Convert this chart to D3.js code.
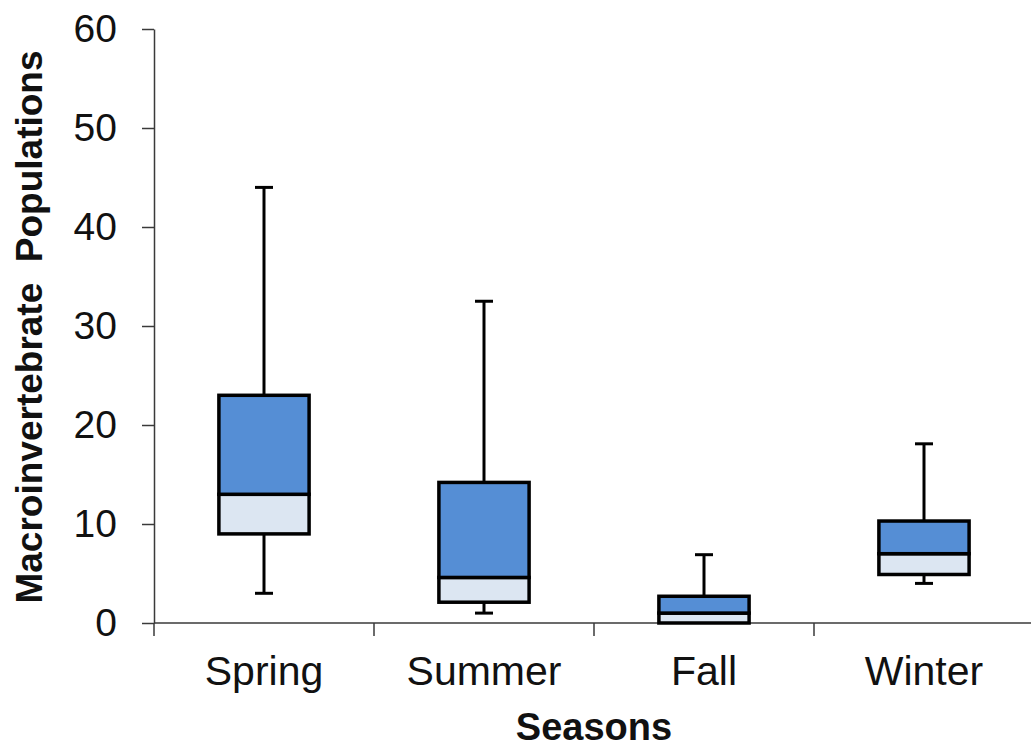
<!DOCTYPE html>
<html>
<head>
<meta charset="utf-8">
<script src="https://cdn.jsdelivr.net/npm/d3@7"></script>
<style>
  html, body { margin: 0; padding: 0; background: #fff; }
  svg { display: block; font-family: "Liberation Sans", Arial, sans-serif; }
</style>
</head>
<body>
<svg id="chart" width="1031" height="744"></svg>
<script>
// Seasonal macroinvertebrate counts: five-number summaries per season
const categories = ["Spring", "Summer", "Fall", "Winter"];
const minValues    = [3, 1, 0, 4];
const q1Values     = [9, 2.1, 0, 4.9];
const medianValues = [13, 4.6, 1, 7];
const q3Values     = [23, 14.2, 2.7, 10.3];
const maxValues    = [44, 32.5, 6.9, 18.1];
const yTicks = [0, 10, 20, 30, 40, 50, 60];

const rows = categories.map((c, i) => ({
  season: c, min: minValues[i], q1: q1Values[i], median: medianValues[i],
  q3: q3Values[i], max: maxValues[i]
}));

const svg = d3.select("#chart");
const plotLeft = 154, plotRight = 1034, plotTop = 29, plotBottom = 623;

const x = d3.scaleBand().domain(categories).range([plotLeft, plotRight]).paddingInner(0).paddingOuter(0);
const y = d3.scaleLinear().domain([0, 60]).range([plotBottom, plotTop]);

const axisColor = "#3a3a3a";

// Y axis
const yAxis = svg.append("g")
  .attr("transform", `translate(${plotLeft},0)`)
  .call(d3.axisLeft(y).tickValues(yTicks).tickSize(12).tickPadding(25).tickSizeOuter(0));
yAxis.select(".domain").attr("stroke", axisColor).attr("stroke-width", 1.5);
yAxis.selectAll(".tick line").attr("stroke", axisColor).attr("stroke-width", 1.5);
yAxis.selectAll(".tick text")
  .attr("font-size", 39).attr("fill", "#111")
  .attr("font-family", "'Liberation Sans', Arial, sans-serif");

// X axis: ticks sit on category boundaries
const boundaries = categories.map(c => x(c));
const xAxisG = svg.append("g").attr("transform", `translate(0,${plotBottom})`);
xAxisG.append("line")
  .attr("x1", plotLeft).attr("x2", 1031).attr("y1", 0).attr("y2", 0)
  .attr("stroke", axisColor).attr("stroke-width", 1.5);
xAxisG.selectAll("line.btick").data(boundaries).join("line")
  .attr("class", "btick")
  .attr("x1", d => d).attr("x2", d => d).attr("y1", 0).attr("y2", 13)
  .attr("stroke", axisColor).attr("stroke-width", 1.5);
xAxisG.selectAll("text.cat").data(categories).join("text")
  .attr("class", "cat")
  .attr("x", d => x(d) + x.bandwidth() / 2)
  .attr("y", 62)
  .attr("text-anchor", "middle")
  .attr("font-size", 41).attr("fill", "#111")
  .text(d => d);

// Axis titles
svg.append("text")
  .attr("x", (plotLeft + plotRight) / 2).attr("y", 740)
  .attr("text-anchor", "middle")
  .attr("font-size", 38).attr("font-weight", "bold").attr("fill", "#111")
  .text("Seasons");

svg.append("text")
  .attr("transform", `translate(42,${(plotTop + plotBottom) / 2 + 1}) rotate(-90)`)
  .attr("text-anchor", "middle")
  .attr("font-size", 37).attr("font-weight", "bold").attr("fill", "#111")
  .style("white-space", "pre")
  .text("Macroinvertebrate  Populations");

// Box plots
const boxW = x.bandwidth() * 0.41;
const capW = 18;
const g = svg.append("g");
const box = g.selectAll("g.box").data(rows).join("g").attr("class", "box")
  .attr("transform", d => `translate(${x(d.season) + x.bandwidth() / 2},0)`);

// whiskers
box.append("line")
  .attr("x1", 0).attr("x2", 0)
  .attr("y1", d => y(d.max)).attr("y2", d => y(d.q3))
  .attr("stroke", "#000").attr("stroke-width", 3);
box.append("line")
  .attr("x1", -capW / 2).attr("x2", capW / 2)
  .attr("y1", d => y(d.max)).attr("y2", d => y(d.max))
  .attr("stroke", "#000").attr("stroke-width", 3);
box.filter(d => d.min < d.q1).append("line")
  .attr("x1", 0).attr("x2", 0)
  .attr("y1", d => y(d.q1)).attr("y2", d => y(d.min))
  .attr("stroke", "#000").attr("stroke-width", 3);
box.filter(d => d.min < d.q1).append("line")
  .attr("x1", -capW / 2).attr("x2", capW / 2)
  .attr("y1", d => y(d.min)).attr("y2", d => y(d.min))
  .attr("stroke", "#000").attr("stroke-width", 3);

// lower half (Q1 to median)
box.append("rect")
  .attr("x", -boxW / 2).attr("width", boxW)
  .attr("y", d => y(d.median)).attr("height", d => y(d.q1) - y(d.median))
  .attr("fill", "#dce6f2").attr("stroke", "#000").attr("stroke-width", 3.5);
// upper half (median to Q3)
box.append("rect")
  .attr("x", -boxW / 2).attr("width", boxW)
  .attr("y", d => y(d.q3)).attr("height", d => y(d.median) - y(d.q3))
  .attr("fill", "#558ed5").attr("stroke", "#000").attr("stroke-width", 3.5);
</script>
</body>
</html>
